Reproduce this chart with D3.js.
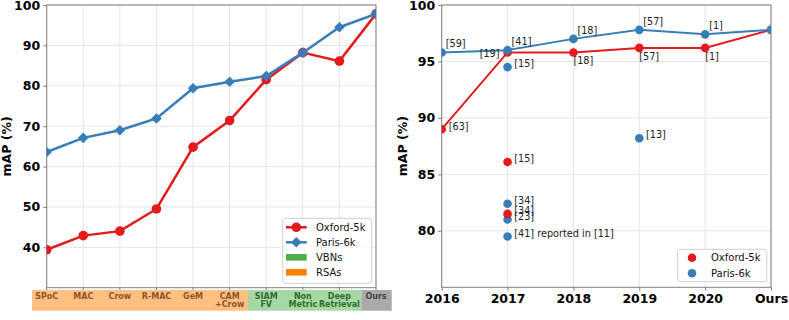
<!DOCTYPE html>
<html>
<head>
<meta charset="utf-8">
<script src="https://d3js.org/d3.v7.min.js"></script>
<style>
  body { margin: 0; background: #fff; }
  svg { font-family: "DejaVu Sans", sans-serif; }
</style>
</head>
<body>
<div id="chart"></div>
<script>
// ---- data: left panel ----
var methods = ["SPoC", "MAC", "Crow", "R-MAC", "GeM", "CAM\n+Crow", "SIAM\nFV", "Non\nMetric", "Deep\nRetrieval", "Ours"];
var methodGroup = ["RSA", "RSA", "RSA", "RSA", "RSA", "RSA", "VBN", "VBN", "VBN", "Ours"];
var oxfordByMethod = [39.4, 42.9, 44.0, 49.5, 64.8, 71.4, 81.5, 88.2, 86.1, 97.8];
var parisByMethod  = [63.6, 67.1, 69.0, 71.9, 79.4, 81.0, 82.4, 88.2, 94.5, 97.8];
var leftTicks = [40, 50, 60, 70, 80, 90, 100];

// ---- data: right panel ----
var years = ["2016", "2017", "2018", "2019", "2020", "Ours"];
var oxfordBest = [89.0, 95.8, 95.8, 96.2, 96.2, 97.8];
var oxfordBestRefs = ["[63]", "[19]", "[18]", "[57]", "[1]", ""];
var parisBest = [95.8, 96.0, 97.0, 97.8, 97.4, 97.8];
var parisBestRefs = ["[59]", "[41]", "[18]", "[57]", "[1]", ""];
var oxfordOtherYear = ["2017", "2017"];
var oxfordOther = [86.1, 81.5];
var oxfordOtherRefs = ["[15]", "[34]"];
var parisOtherYear = ["2017", "2019", "2017", "2017", "2017"];
var parisOther = [94.5, 88.2, 82.4, 81.0, 79.5];
var parisOtherRefs = ["[15]", "[13]", "[34]", "[23]", "[41] reported in [11]"];
var rightTicks = [80, 85, 90, 95, 100];

var RED = "#e41a1c", BLUE = "#377eb8";
var GRID = "#e5e5e5", SPINE = "#7f7f7f";

var svg = d3.select("#chart").append("svg")
    .attr("width", 789).attr("height", 320);

function frame(g, x0, x1, y0, y1) {
  g.append("rect").attr("x", x0).attr("y", y0)
    .attr("width", x1 - x0).attr("height", y1 - y0)
    .attr("fill", "none").attr("stroke", SPINE).attr("stroke-width", 1);
}

// ================= LEFT PANEL =================
var L = { x0: 46.7, x1: 376, y0: 5, y1: 287.7 };
var xl = d3.scalePoint().domain(d3.range(methods.length)).range([L.x0, L.x1]);
var yl = d3.scaleLinear().domain([30, 100]).range([L.y1, L.y0]);
var step = xl.step();

var gl = svg.append("g");
svg.append("clipPath").attr("id", "clipL").append("rect")
  .attr("x", L.x0).attr("y", L.y0 - 8).attr("width", L.x1 - L.x0).attr("height", L.y1 - L.y0 + 8);

// grid
gl.selectAll(".gx").data(d3.range(methods.length)).enter().append("line")
  .attr("x1", function(d) { return xl(d); }).attr("x2", function(d) { return xl(d); })
  .attr("y1", L.y0).attr("y2", L.y1).attr("stroke", GRID);
gl.selectAll(".gy").data(leftTicks).enter().append("line")
  .attr("x1", L.x0).attr("x2", L.x1)
  .attr("y1", function(d) { return yl(d); }).attr("y2", function(d) { return yl(d); })
  .attr("stroke", GRID);

// y axis
var ayl = gl.append("g").attr("transform", "translate(" + L.x0 + ",0)")
  .call(d3.axisLeft(yl).tickValues(leftTicks).tickSize(3.5).tickPadding(3));
ayl.select(".domain").remove();
ayl.selectAll("line").attr("stroke", SPINE);
ayl.selectAll("text").attr("font-size", "12.5px").attr("font-weight", "bold")
  .attr("fill", "#000").attr("font-family", "DejaVu Sans");

// x ticks
gl.selectAll(".tx").data(d3.range(methods.length)).enter().append("line")
  .attr("x1", function(d) { return xl(d); }).attr("x2", function(d) { return xl(d); })
  .attr("y1", L.y1).attr("y2", L.y1 + 3).attr("stroke", SPINE);

frame(gl, L.x0, L.x1, L.y0, L.y1);

// category band
var bandFill = { RSA: "#ffbf80", VBN: "#a6d8a4", Ours: "#aaaaaa" };
var bandText = { RSA: "#8a5528", VBN: "#2f6e2f", Ours: "#444444" };
var bandEdges = [xl(0) - 0.4 * step, xl(5) + 0.5 * step, xl(8) + 0.6 * step, xl(9) + 0.43 * step];
var groups = ["RSA", "VBN", "Ours"];
gl.selectAll(".band").data(groups).enter().append("rect")
  .attr("x", function(d, i) { return bandEdges[i]; })
  .attr("width", function(d, i) { return bandEdges[i + 1] - bandEdges[i]; })
  .attr("y", 290).attr("height", 20.7)
  .attr("fill", function(d) { return bandFill[d]; });

methods.forEach(function(m, i) {
  var t = gl.append("text").attr("x", xl(i)).attr("y", 298.6)
    .attr("text-anchor", "middle").attr("font-size", "8px").attr("font-weight", "bold")
    .attr("fill", bandText[methodGroup[i]]);
  m.split("\n").forEach(function(s, k) {
    t.append("tspan").attr("x", xl(i)).attr("dy", k === 0 ? 0 : 8.6).text(s);
  });
});

// y label
gl.append("text").attr("transform", "translate(11," + ((L.y0 + L.y1) / 2) + ") rotate(-90)")
  .attr("text-anchor", "middle").attr("font-size", "12.5px").attr("font-weight", "bold")
  .text("mAP (%)");

// lines
var plotL = gl.append("g").attr("clip-path", "url(#clipL)");
var lineL = d3.line().x(function(d, i) { return xl(i); }).y(function(d) { return yl(d); });
var diamond = d3.symbol().type(d3.symbolDiamond2).size(72);

plotL.append("path").datum(oxfordByMethod).attr("d", lineL)
  .attr("fill", "none").attr("stroke", RED).attr("stroke-width", 2.5);
plotL.selectAll(".ox").data(oxfordByMethod).enter().append("circle")
  .attr("cx", function(d, i) { return xl(i); }).attr("cy", function(d) { return yl(d); })
  .attr("r", 4.8).attr("fill", RED);

plotL.append("path").datum(parisByMethod).attr("d", lineL)
  .attr("fill", "none").attr("stroke", BLUE).attr("stroke-width", 2.5);
plotL.selectAll(".pa").data(parisByMethod).enter().append("path")
  .attr("d", diamond)
  .attr("transform", function(d, i) { return "translate(" + xl(i) + "," + yl(d) + ")"; })
  .attr("fill", BLUE);

// legend left
var lg = gl.append("g");
lg.append("rect").attr("x", 282.7).attr("y", 218.3).attr("width", 89).attr("height", 65)
  .attr("rx", 2.5).attr("fill", "#fff").attr("fill-opacity", 0.85).attr("stroke", "#d0d0d0");
var legItems = [
  { label: "Oxford-5k", kind: "circle", color: RED },
  { label: "Paris-6k", kind: "diamond", color: BLUE },
  { label: "VBNs", kind: "patch", color: "#4daf4a" },
  { label: "RSAs", kind: "patch", color: "#ff7f00" }
];
legItems.forEach(function(it, i) {
  var cy = 227.3 + i * 15;
  if (it.kind === "patch") {
    lg.append("rect").attr("x", 286).attr("y", cy - 3.3).attr("width", 20.7).attr("height", 6.6)
      .attr("fill", it.color);
  } else {
    lg.append("line").attr("x1", 286).attr("x2", 306.7).attr("y1", cy).attr("y2", cy)
      .attr("stroke", it.color).attr("stroke-width", 2.5);
    if (it.kind === "circle") {
      lg.append("circle").attr("cx", 296.3).attr("cy", cy).attr("r", 4.8).attr("fill", it.color);
    } else {
      lg.append("path").attr("d", diamond).attr("transform", "translate(296.3," + cy + ")")
        .attr("fill", it.color);
    }
  }
  lg.append("text").attr("x", 316).attr("y", cy).attr("dy", "0.36em")
    .attr("font-size", "10px").attr("fill", "#111").text(it.label);
});

// ================= RIGHT PANEL =================
var R = { x0: 441.7, x1: 771, y0: 5, y1: 287.3 };
var xr = d3.scalePoint().domain(years).range([R.x0, R.x1]);
var yr = d3.scaleLinear().domain([75, 100]).range([R.y1, R.y0]);

var gr = svg.append("g");
svg.append("clipPath").attr("id", "clipR").append("rect")
  .attr("x", R.x0).attr("y", R.y0).attr("width", R.x1 - R.x0).attr("height", R.y1 - R.y0);

gr.selectAll(".gx").data(years).enter().append("line")
  .attr("x1", function(d) { return xr(d); }).attr("x2", function(d) { return xr(d); })
  .attr("y1", R.y0).attr("y2", R.y1).attr("stroke", GRID);
gr.selectAll(".gy").data(rightTicks).enter().append("line")
  .attr("x1", R.x0).attr("x2", R.x1)
  .attr("y1", function(d) { return yr(d); }).attr("y2", function(d) { return yr(d); })
  .attr("stroke", GRID);

var ayr = gr.append("g").attr("transform", "translate(" + R.x0 + ",0)")
  .call(d3.axisLeft(yr).tickValues(rightTicks).tickSize(3.5).tickPadding(3));
ayr.select(".domain").remove();
ayr.selectAll("line").attr("stroke", SPINE);
ayr.selectAll("text").attr("font-size", "12.5px").attr("font-weight", "bold")
  .attr("fill", "#000").attr("font-family", "DejaVu Sans");

var axr = gr.append("g").attr("transform", "translate(0," + R.y1 + ")")
  .call(d3.axisBottom(xr).tickSize(3.5).tickPadding(3));
axr.select(".domain").remove();
axr.selectAll("line").attr("stroke", SPINE);
axr.selectAll("text").attr("font-size", "12.5px").attr("font-weight", "bold")
  .attr("fill", "#000").attr("font-family", "DejaVu Sans");

frame(gr, R.x0, R.x1, R.y0, R.y1);

gr.append("text").attr("transform", "translate(407," + ((R.y0 + R.y1) / 2) + ") rotate(-90)")
  .attr("text-anchor", "middle").attr("font-size", "12.5px").attr("font-weight", "bold")
  .text("mAP (%)");

var plotR = gr.append("g").attr("clip-path", "url(#clipR)");
var lineR = d3.line().x(function(d, i) { return xr(years[i]); }).y(function(d) { return yr(d); });

function dots(vals, yrs, color) {
  plotR.selectAll(null).data(vals).enter().append("circle")
    .attr("cx", function(d, i) { return xr(yrs[i]); }).attr("cy", function(d) { return yr(d); })
    .attr("r", 4.3).attr("fill", color);
}

dots(parisOther, parisOtherYear, BLUE);
dots(oxfordOther, oxfordOtherYear, RED);
plotR.append("path").datum(oxfordBest).attr("d", lineR)
  .attr("fill", "none").attr("stroke", RED).attr("stroke-width", 2);
dots(oxfordBest, years, RED);
plotR.append("path").datum(parisBest).attr("d", lineR)
  .attr("fill", "none").attr("stroke", BLUE).attr("stroke-width", 2);
dots(parisBest, years, BLUE);

// annotations
function note(txt, x, y, anchor) {
  if (!txt) return;
  gr.append("text").attr("x", x).attr("y", y).attr("dy", "0.36em")
    .attr("text-anchor", anchor || "start")
    .attr("font-size", "9.7px").attr("fill", "#222").text(txt);
}
parisBest.forEach(function(v, i) {
  note(parisBestRefs[i], xr(years[i]) + 4, yr(v) - 8.7);
});
oxfordBest.forEach(function(v, i) {
  if (i === 0) note(oxfordBestRefs[i], xr(years[i]) + 7, yr(v) - 3);
  else if (i === 1) note(oxfordBestRefs[i], xr(years[i]) - 8, yr(v) + 1.5, "end");
  else note(oxfordBestRefs[i], xr(years[i]), yr(v) + 8.5);
});
parisOther.forEach(function(v, i) {
  note(parisOtherRefs[i], xr(parisOtherYear[i]) + 6.7, yr(v) - 3.3);
});
oxfordOther.forEach(function(v, i) {
  note(oxfordOtherRefs[i], xr(oxfordOtherYear[i]) + 6.7, yr(v) - 3.3);
});

// legend right
var rg = gr.append("g");
rg.append("rect").attr("x", 677.7).attr("y", 249.3).attr("width", 89).attr("height", 32.4)
  .attr("rx", 2.5).attr("fill", "#fff").attr("fill-opacity", 0.85).attr("stroke", "#d0d0d0");
[["Oxford-5k", RED], ["Paris-6k", BLUE]].forEach(function(it, i) {
  var cy = 257.7 + i * 15.6;
  rg.append("circle").attr("cx", 692).attr("cy", cy).attr("r", 4.3).attr("fill", it[1]);
  rg.append("text").attr("x", 711).attr("y", cy).attr("dy", "0.36em")
    .attr("font-size", "10px").attr("fill", "#111").text(it[0]);
});
</script>
</body>
</html>
